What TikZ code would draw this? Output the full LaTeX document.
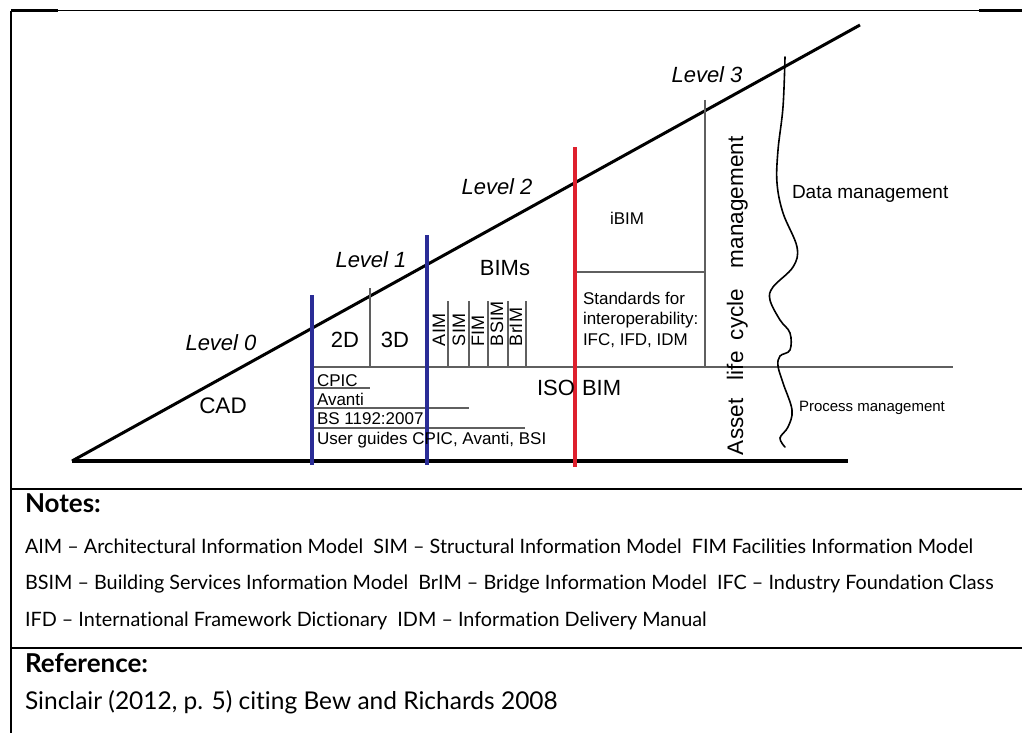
\documentclass[tikz,border=0pt]{standalone}
\usepackage{fontspec}
\setmainfont{Liberation Sans}
\newfontfamily\notefont[Ligatures={TeX,NoCommon}]{Lato}
\definecolor{bimred}{RGB}{222,32,45}
\definecolor{bimblue}{RGB}{42,44,150}
\definecolor{thingray}{RGB}{95,95,95}
\begin{document}
\begin{tikzpicture}[x=1pt,y=-1pt,
  every node/.style={inner sep=0pt, outer sep=0pt},
  lev/.style={font=\fontsize{22}{26}\selectfont\itshape},
  big/.style={font=\fontsize{22}{26}\selectfont},
  med/.style={font=\fontsize{17}{20.5}\selectfont},
  small/.style={font=\fontsize{15}{18}\selectfont},
  rotlbl/.style={font=\fontsize{18}{21}\selectfont, rotate=90, anchor=base west},
  rotbig/.style={font=\fontsize{22.5}{26}\selectfont, rotate=90, anchor=base west},
  thinline/.style={draw=thingray, line width=1.3pt},
  blueline/.style={draw=bimblue, line width=4pt},
  redline/.style={draw=bimred, line width=4pt},
  frameline/.style={line width=2.5pt},
  notetxt/.style={font=\notefont\fontsize{19.8}{23}\selectfont, anchor=west},
  notehead/.style={font=\notefont\bfseries\fontsize{26}{30}\selectfont, anchor=west}]
\useasboundingbox (0,0) rectangle (1022,733);

% frame
\coordinate (ftl) at (11,11);
\coordinate (ftr) at (1022,11);
\coordinate (fbl) at (11,733);
\draw[line width=1pt] (ftl) -- (ftr);
\draw[line width=3pt] (11,11) -- (58,11);
\draw[line width=3pt] (979,11) -- (1022,11);
\draw[frameline] (ftl) -- (fbl);
\coordinate (s1l) at (11,489); \coordinate (s1r) at (1022,489);
\coordinate (s2l) at (11,648); \coordinate (s2r) at (1022,648);
\draw[frameline] (s1l) -- (s1r);
\draw[frameline] (s2l) -- (s2r);

% main triangle
\coordinate (tip) at (72,461);
\coordinate (top) at (860,25);
\coordinate (bend) at (848,461);
\draw[line width=3pt] (tip) -- (top);
\draw[line width=4pt, line cap=butt] (tip) -- (bend);

% thin lines
\coordinate (m1) at (312,367); \coordinate (m2) at (953,367);
\draw[thinline] (m1) -- (m2);
\draw[thinline] (370,288) -- (370,367);
\foreach \x in {448,469,488,508,526} \draw[thinline] (\x,301) -- (\x,367);
\draw[thinline] (705,100) -- (705,367);
\draw[thinline] (575,272) -- (705,272);
\draw[thinline] (312,388) -- (370,388);
\draw[thinline] (312,408) -- (469,408);
\draw[thinline] (312,428) -- (525,428);

% coloured verticals
\draw[blueline] (312,295) -- (312,465);
\draw[blueline] (427,235) -- (427,465);
\draw[redline] (575,147) -- (575,467);

% wavy line
\draw[line width=1.6pt, line cap=round] plot[smooth, tension=0.6] coordinates {
 (785,57) (783,107) (778,150) (777,183) (783,213) (797,247) (793,267)
 (773,287) (770,300) (780,320) (790,333) (790,350) (780,356) (778,366)
 (783,383) (792,410) (788,427) (780,438) (785,447)};

% labels
\node[lev] (l0) at (221,343) {Level 0};
\node[lev] (l1) at (371,260) {Level 1};
\node[lev] (l2) at (497,187) {Level 2};
\node[lev] (l3) at (707,75) {Level 3};
\node[font=\fontsize{22.5}{27}\selectfont] (cad) at (223,406) {CAD};
\node[big] (d2) at (345,340) {2D};
\node[big] (d3) at (395,340) {3D};
\node[big] (bims) at (505,268) {BIMs};
\node[rotlbl] (aim) at (445,346) {AIM};
\node[rotlbl] (sim) at (465,346) {SIM};
\node[rotlbl] (fim) at (484,346) {FIM};
\node[rotlbl] (bsim) at (503,346) {BSIM};
\node[rotlbl] (brim) at (522,346) {BrIM};
\node[med, anchor=base west] (cpic) at (317,386) {CPIC};
\node[med, anchor=base west] (avanti) at (317,405) {Avanti};
\node[med, anchor=base west] (bs) at (317,424) {BS 1192:2007};
\node[med, anchor=base west] (ug) at (317,444) {User guides CPIC, Avanti, BSI};
\node[big, anchor=base west] (iso) at (537,395) {ISO};
\node[big, anchor=base west] (isobim) at (582,395) {BIM};
\node[med] (ibim) at (627,218) {iBIM};
\node[med, anchor=base west] (std1) at (583,304) {Standards for};
\node[med, anchor=base west] (std2) at (583,324) {interoperability:};
\node[med, anchor=base west] (std3) at (583,345) {IFC, IFD, IDM};
\node[rotbig] (w1) at (743,455) {Asset};
\node[rotbig] (w2) at (743,380) {life};
\node[rotbig] (w3) at (743,340) {cycle};
\node[rotbig] (w4) at (743,268) {management};
\node[font=\fontsize{19}{23}\selectfont, anchor=base west] (dm) at (792,198) {Data management};
\node[small, anchor=base west] (pm) at (799,411) {Process management};

% notes
\node[notehead] (notes) at (25,503) {Notes:};
\node[notetxt] (n1) at (25,546) {AIM – Architectural Information Model\ \ SIM – Structural Information Model\ \ FIM Facilities Information Model};
\node[notetxt] (n2) at (25,584) {BSIM – Building Services Information Model\ \ BrIM – Bridge Information Model\ \ IFC – Industry Foundation Class};
\node[notetxt] (n3) at (25,621) {IFD – International Framework Dictionary\ \ IDM – Information Delivery Manual};
\node[notehead] (ref) at (25,663) {Reference:};
\node[notetxt, font=\notefont\fontsize{24.5}{28}\selectfont] (src) at (25,702) {Sinclair (2012, p. 5) citing Bew and Richards 2008};
\end{tikzpicture}
\end{document}
